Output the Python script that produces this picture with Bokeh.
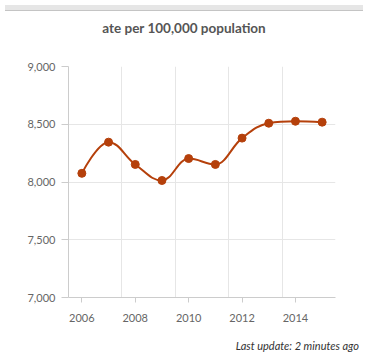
import numpy as np
from bokeh.plotting import figure
from bokeh.models import ColumnDataSource, FixedTicker, NumeralTickFormatter, Div, Range1d
from bokeh.layouts import column
from bokeh.embed import file_html
from bokeh.resources import INLINE

# ---- data ----
years = [2006, 2007, 2008, 2009, 2010, 2011, 2012, 2013, 2014, 2015]
rates = [8075, 8345, 8152, 8013, 8203, 8152, 8380, 8509, 8526, 8518]
x_ticks = [2006, 2008, 2010, 2012, 2014]
y_ticks = [7000, 7500, 8000, 8500, 9000]
x_grid = [2007.5, 2009.5, 2011.5, 2013.5, 2015.5]
title_text = "ate per 100,000 population"
footer_text = "Last update: 2 minutes ago"

LINE = "#b5400b"
FONT = "Lato"


def spline_controls(xs, ys, smoothing=1.5):
    n = len(xs)
    left = [(x, y) for x, y in zip(xs, ys)]
    right = [(x, y) for x, y in zip(xs, ys)]
    d = smoothing + 1
    for i in range(1, n - 1):
        px, py = xs[i], ys[i]
        lx, ly = xs[i - 1], ys[i - 1]
        nx, ny = xs[i + 1], ys[i + 1]
        lcx = (smoothing * px + lx) / d
        lcy = (smoothing * py + ly) / d
        rcx = (smoothing * px + nx) / d
        rcy = (smoothing * py + ny) / d
        if rcx != lcx:
            corr = (rcy - lcy) * (rcx - px) / (rcx - lcx) + py - rcy
            lcy += corr
            rcy += corr
            if lcy > ly and lcy > py:
                lcy = max(ly, py); rcy = 2 * py - lcy
            elif lcy < ly and lcy < py:
                lcy = min(ly, py); rcy = 2 * py - lcy
            if rcy > ny and rcy > py:
                rcy = max(ny, py); lcy = 2 * py - rcy
            elif rcy < ny and rcy < py:
                rcy = min(ny, py); lcy = 2 * py - rcy
        left[i] = (lcx, lcy)
        right[i] = (rcx, rcy)
    seg = dict(x0=[], y0=[], x1=[], y1=[], cx0=[], cy0=[], cx1=[], cy1=[])
    for i in range(1, n):
        seg["x0"].append(xs[i - 1]); seg["y0"].append(ys[i - 1])
        seg["x1"].append(xs[i]); seg["y1"].append(ys[i])
        seg["cx0"].append(right[i - 1][0]); seg["cy0"].append(right[i - 1][1])
        seg["cx1"].append(left[i][0]); seg["cy1"].append(left[i][1])
    return seg


p = figure(width=358, height=284, output_backend="svg", toolbar_location=None,
           x_range=Range1d(2005.5, 2015.5), y_range=Range1d(7000, 9000),
           min_border_left=68, min_border_right=23, min_border_top=19, min_border_bottom=34)
p.outline_line_color = None
p.background_fill_color = "white"
p.border_fill_color = "white"

seg = spline_controls(years, rates)
p.bezier(x0="x0", y0="y0", x1="x1", y1="y1", cx0="cx0", cy0="cy0", cx1="cx1", cy1="cy1",
         source=ColumnDataSource(seg), line_color=LINE, line_width=2)
p.scatter(years, rates, size=8, fill_color=LINE, line_color=LINE)

p.xaxis.ticker = FixedTicker(ticks=x_ticks)
p.yaxis.ticker = FixedTicker(ticks=y_ticks)
p.yaxis.formatter = NumeralTickFormatter(format="0,0")
for ax in (p.xaxis, p.yaxis):
    ax.axis_line_color = "#cccccc"
    ax.major_tick_line_color = "#cccccc"
    ax.minor_tick_line_color = None
    ax.major_tick_in = 0
    ax.major_label_text_font = FONT
    ax.major_label_text_font_size = "11px"
    ax.major_label_text_color = "#666666"
p.xaxis.major_tick_out = 5
p.yaxis.major_tick_out = 7
p.xaxis.major_label_standoff = 11
p.yaxis.major_label_standoff = 6
p.xgrid.ticker = FixedTicker(ticks=x_grid)
p.xgrid.grid_line_color = "#e6e6e6"
p.ygrid.grid_line_color = "#e6e6e6"

header_html = (
    '<div style="width:358px;height:6px;background:#e6e6e6;border-bottom:1px solid #c4c4c4;"></div>'
    f'<div style="width:358px;margin-top:7px;line-height:20px;height:20px;text-align:center;'
    f'font-family:{FONT};font-size:13.5px;font-weight:bold;color:#555555;">{title_text}</div>'
)
footer_html = (
    f'<div style="width:356px;margin-top:3px;line-height:14px;text-align:right;padding-right:2px;'
    f'font-family:{FONT};font-size:11px;font-style:italic;color:#333333;">{footer_text}</div>'
)
header = Div(text=header_html, width=358, height=37)
footer = Div(text=footer_html, width=358, height=20)
layout = column(header, p, footer, spacing=0)

open("out.html", "w").write(file_html(layout, INLINE))
